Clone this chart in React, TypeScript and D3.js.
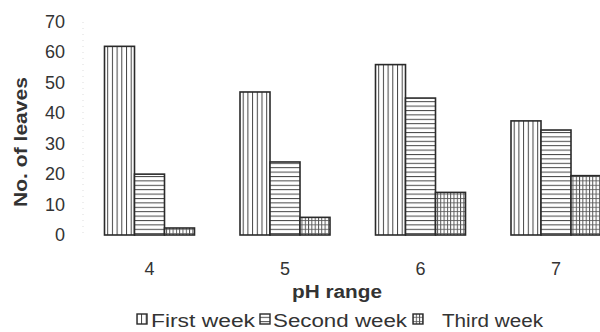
import React from "react";
import * as d3 from "d3";

const categories = ["4", "5", "6", "7"];
const seriesNames = ["First week", "Second week", "Third week"];
const firstWeek = [62, 47, 56, 37.5];
const secondWeek = [20, 24, 45, 34.5];
const thirdWeek = [2.3, 5.8, 14, 19.5];
const yTicks = [0, 10, 20, 30, 40, 50, 60, 70];

const W = 600;
const H = 332;
const FONT = "Arial, 'Liberation Sans', Helvetica, sans-serif";
const TEXT = "#333";
const INK = "#2a2a2a";

export default function App() {
  const series = [firstWeek, secondWeek, thirdWeek];
  const y = d3.scaleLinear().domain([0, 70]).range([235, 22]);
  const x = d3.scalePoint<string>().domain(categories).range([149.5, 556]);
  const groupW = 90;
  const xs = d3.scaleBand<number>().domain([0, 1, 2]).range([-groupW / 2, groupW / 2]).padding(0);
  const patIds = ["patV", "patH", "patG"];

  const legend = [
    { icon: 137, text: 151, len: 104 },
    { icon: 260, text: 273, len: 134 },
    { icon: 413, text: 442, len: 101 },
  ];

  return (
    <svg width={W} height={H} style={{ position: "fixed", left: 0, top: 0, background: "#fff" }}>
      <defs>
        <pattern id="patV" patternUnits="userSpaceOnUse" width={4.7} height={10}>
          <rect width={4.7} height={10} fill="#fff" />
          <line x1={0.5} y1={0} x2={0.5} y2={10} stroke="#444" strokeWidth={1} />
        </pattern>
        <pattern id="patH" patternUnits="userSpaceOnUse" width={10} height={4.4}>
          <rect width={10} height={4.4} fill="#fff" />
          <line x1={0} y1={0.5} x2={10} y2={0.5} stroke="#444" strokeWidth={1} />
        </pattern>
        <pattern id="patG" patternUnits="userSpaceOnUse" width={3.3} height={4.4}>
          <rect width={3.3} height={4.4} fill="#fff" />
          <line x1={0.5} y1={0} x2={0.5} y2={4.4} stroke="#444" strokeWidth={0.9} />
          <line x1={0} y1={0.5} x2={3.3} y2={0.5} stroke="#555" strokeWidth={0.8} />
        </pattern>
      </defs>

      {/* faint y axis */}
      <line x1={83} y1={y(70)} x2={83} y2={y(0) + 3} stroke="#ddd" strokeWidth={1} strokeDasharray="1,5" />

      {/* y tick labels */}
      {yTicks.map((t) => (
        <text key={t} x={65} y={y(t)} textAnchor="end" dominantBaseline="central" fontFamily={FONT} fontSize={18} fill={TEXT}>
          {t}
        </text>
      ))}

      {/* y title */}
      <text
        transform={`translate(21,${142}) rotate(-90)`}
        textAnchor="middle"
        dominantBaseline="central"
        fontFamily={FONT}
        fontWeight="bold"
        fontSize={18}
        fill={TEXT}
        textLength={130}
        lengthAdjust="spacingAndGlyphs"
      >
        No. of leaves
      </text>

      {/* bars */}
      {categories.map((c, ci) => (
        <g key={c} transform={`translate(${x(c)},0)`}>
          {series.map((s, si) => (
            <rect
              key={si}
              x={xs(si)!}
              y={y(s[ci])}
              width={xs.bandwidth()}
              height={y(0) - y(s[ci])}
              fill={`url(#${patIds[si]})`}
              stroke={INK}
              strokeWidth={1.6}
            />
          ))}
        </g>
      ))}

      {/* x tick labels */}
      {categories.map((c) => (
        <text key={c} x={x(c)!} y={275} textAnchor="middle" fontFamily={FONT} fontSize={18} fill={TEXT}>
          {c}
        </text>
      ))}

      {/* x title */}
      <text x={337} y={298} textAnchor="middle" fontFamily={FONT} fontWeight="bold" fontSize={18} fill={TEXT} textLength={90} lengthAdjust="spacingAndGlyphs">
        pH range
      </text>

      {/* legend */}
      {seriesNames.map((n, i) => (
        <g key={n}>
          <rect x={legend[i].icon} y={314} width={10} height={10} fill={`url(#${patIds[i]})`} stroke={INK} strokeWidth={1.4} />
          <text x={legend[i].text} y={327} fontFamily={FONT} fontSize={18} fill={TEXT} textLength={legend[i].len} lengthAdjust="spacingAndGlyphs">
            {n}
          </text>
        </g>
      ))}
    </svg>
  );
}
